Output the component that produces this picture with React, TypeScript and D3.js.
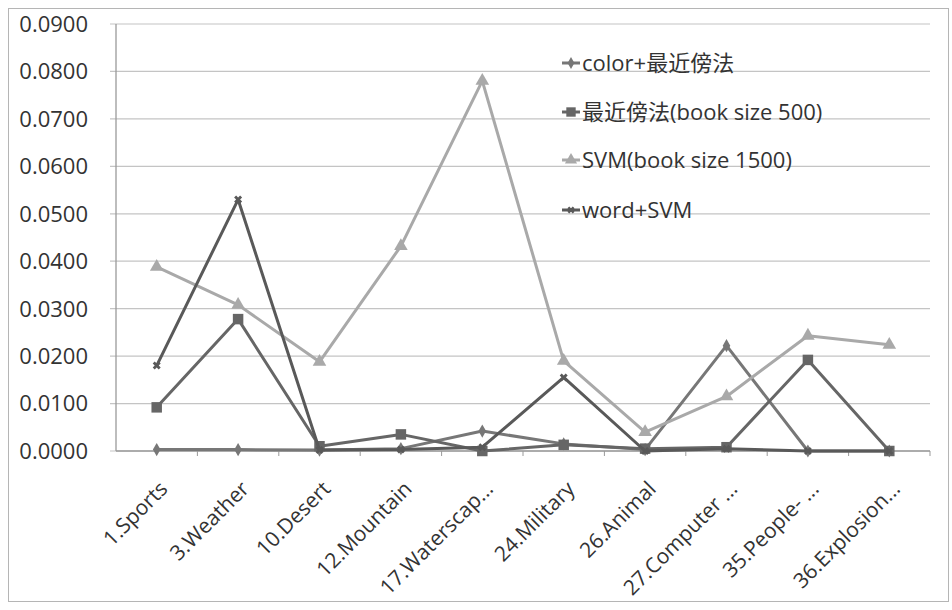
import React, { useEffect } from "react";
import * as d3 from "d3";

// categories and series
const categories = [
  "1.Sports",
  "3.Weather",
  "10.Desert",
  "12.Mountain",
  "17.Waterscap...",
  "24.Military",
  "26.Animal",
  "27.Computer ...",
  "35.People- ...",
  "36.Explosion...",
];
const colorNN = [0.0003, 0.0003, 0.0002, 0.0005, 0.0042, 0.0015, 0.0003, 0.0222, 0.0, 0.0];
const nnBook500 = [0.0092, 0.0278, 0.001, 0.0035, 0.0, 0.0013, 0.0005, 0.0008, 0.0192, 0.0];
const svmBook1500 = [0.0388, 0.0308, 0.0188, 0.0432, 0.078, 0.019, 0.004, 0.0115, 0.0243, 0.0224];
const wordSvm = [0.018, 0.053, 0.0002, 0.0003, 0.0008, 0.0155, 0.0, 0.0005, 0.0, 0.0];
const yTicks = [0, 0.01, 0.02, 0.03, 0.04, 0.05, 0.06, 0.07, 0.08, 0.09];

const seriesNames = ["color+最近傍法", "最近傍法(book size 500)", "SVM(book size 1500)", "word+SVM"];
const seriesData = [colorNN, nnBook500, svmBook1500, wordSvm];
const seriesColors = ["#777777", "#666666", "#a9a9a9", "#595959"];
const seriesSymbols = [d3.symbolDiamond, d3.symbolSquare, d3.symbolTriangle, d3.symbolCross];
const symbolSizes = [50, 110, 80, 40];

const W = 952;
const H = 610;
const plot = { left: 116, right: 930, top: 24, bottom: 451 };
const FONT = "'Open Sans', 'Noto Sans CJK SC', sans-serif";

const App = () => {
  useEffect(() => {
    document.body.style.margin = "0";
  }, []);

  const x = d3.scaleBand().domain(categories).range([plot.left, plot.right]);
  const y = d3.scaleLinear().domain([0, 0.09]).range([plot.bottom, plot.top]);
  const cx = (i: number) => (x(categories[i]) as number) + x.bandwidth() / 2;

  const line = d3
    .line<number>()
    .x((_, i) => cx(i))
    .y((d) => y(d));

  const legendX = 566;
  const legendY = [63, 112, 160, 210];

  return (
    <svg width={W} height={H} style={{ display: "block", background: "#fff" }} fontFamily={FONT}>
      <rect x={8.5} y={8.5} width={940} height={593} fill="none" stroke="#b5b5b5" />

      {/* gridlines + y ticks */}
      {yTicks.map((t) => (
        <g key={t}>
          <line x1={plot.left - 6} x2={plot.right} y1={y(t)} y2={y(t)} stroke="#c4c4c4" strokeWidth={1.2} />
          <text x={88} y={y(t)} dy="0.36em" textAnchor="end" fontSize={22} fill="#333">
            {d3.format(".4f")(t)}
          </text>
        </g>
      ))}

      {/* axes */}
      <line x1={plot.left} x2={plot.left} y1={plot.top} y2={plot.bottom} stroke="#9a9a9a" strokeWidth={1.3} />
      <line x1={plot.left} x2={plot.right} y1={plot.bottom} y2={plot.bottom} stroke="#9a9a9a" strokeWidth={1.3} />
      {categories.map((c) => (
        <line
          key={"t" + c}
          x1={(x(c) as number) + x.bandwidth()}
          x2={(x(c) as number) + x.bandwidth()}
          y1={plot.bottom}
          y2={plot.bottom + 5}
          stroke="#9a9a9a"
        />
      ))}

      {/* x labels */}
      {categories.map((c, i) => (
        <text
          key={"l" + c}
          transform={`translate(${cx(i) + 7},${plot.bottom + 34}) rotate(-45)`}
          textAnchor="end"
          dy="0.35em"
          fontSize={21}
          fill="#333"
        >
          {c}
        </text>
      ))}

      {/* series */}
      {seriesData.map((s, si) => (
        <g key={seriesNames[si]}>
          <path d={line(s) as string} fill="none" stroke={seriesColors[si]} strokeWidth={3} strokeLinejoin="round" />
          {s.map((v, i) => (
            <path
              key={i}
              transform={`translate(${cx(i)},${y(v)})${si === 3 ? " rotate(45)" : ""}`}
              d={d3.symbol(seriesSymbols[si], symbolSizes[si])() as string}
              fill={seriesColors[si]}
            />
          ))}
        </g>
      ))}

      {/* legend */}
      {seriesNames.map((n, si) => (
        <g key={"lg" + n} transform={`translate(${legendX},${legendY[si]})`}>
          <line x1={-4} x2={14} y1={0} y2={0} stroke={seriesColors[si]} strokeWidth={3} />
          <path
            transform={`translate(5,0)${si === 3 ? " rotate(45)" : ""}`}
            d={d3.symbol(seriesSymbols[si], symbolSizes[si] * 0.8)() as string}
            fill={seriesColors[si]}
          />
          <text x={16} dy="0.36em" fontSize={22} fill="#333">
            {n}
          </text>
        </g>
      ))}
    </svg>
  );
};

export default App;
